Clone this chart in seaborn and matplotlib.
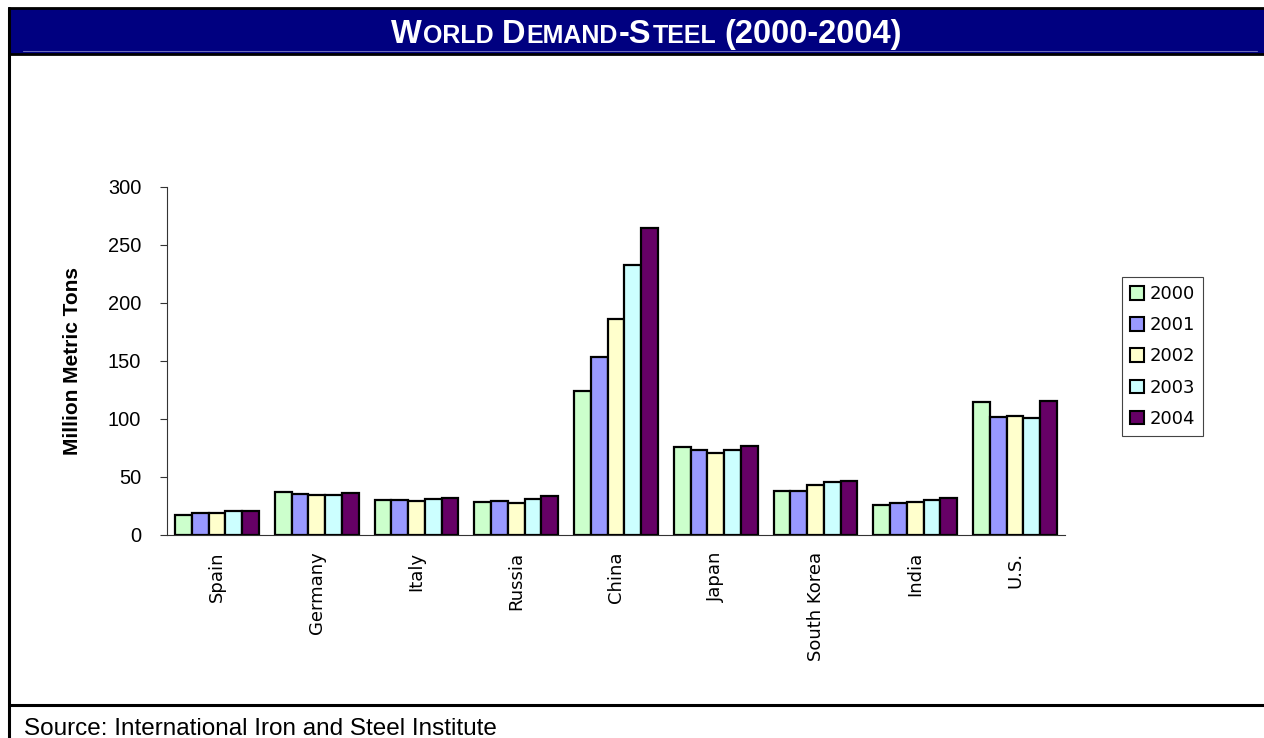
import matplotlib
matplotlib.use("Agg")
import matplotlib.pyplot as plt
import seaborn as sns
import pandas as pd
import numpy as np
from matplotlib.patches import Rectangle
from matplotlib.lines import Line2D

# ---------------- data ----------------
countries = ["Spain", "Germany", "Italy", "Russia", "China", "Japan",
             "South Korea", "India", "U.S."]
years = ["2000", "2001", "2002", "2003", "2004"]
demand_2000 = [17.0, 36.9, 30.2, 28.5, 124.2, 75.8, 38.3, 26.2, 114.7]
demand_2001 = [18.7, 35.4, 30.2, 29.1, 153.3, 73.2, 38.3, 27.4, 101.4]
demand_2002 = [19.3, 34.3, 29.6, 27.4, 186.1, 70.9, 43.5, 28.8, 102.6]
demand_2003 = [21.0, 34.3, 31.4, 31.4, 233.1, 73.2, 45.8, 30.0, 100.9]
demand_2004 = [21.0, 36.0, 32.2, 33.7, 264.7, 76.7, 46.9, 32.2, 115.8]
y_ticks = [0, 50, 100, 150, 200, 250, 300]
year_colors = ["#CCFFCC", "#9999FF", "#FFFFCC", "#CCFFFF", "#660066"]

title_text = "World Demand-Steel (2000-2004)"
source_text = "Source: International Iron and Steel Institute"
y_label = "Million Metric Tons"

# ---------------- setup ----------------
sns.set_style("white")
plt.rcParams["font.family"] = ["Liberation Sans", "DejaVu Sans"]
plt.rcParams["text.color"] = "black"
plt.rcParams["axes.labelcolor"] = "black"
plt.rcParams["xtick.color"] = "black"
plt.rcParams["ytick.color"] = "black"

W, H = 1264, 738
fig = plt.figure(figsize=(W / 100, H / 100), dpi=100)
fig.patch.set_facecolor("white")

ax = fig.add_axes([167 / W, 1 - 535 / H, (1065 - 167) / W, (535 - 187) / H])

series = [demand_2000, demand_2001, demand_2002, demand_2003, demand_2004]
df = pd.DataFrame({
    "Country": countries * len(years),
    "Year": [y for y in years for _ in countries],
    "Demand": [v for s in series for v in s],
})

sns.barplot(data=df, x="Country", y="Demand", hue="Year", hue_order=years,
            order=countries, palette=dict(zip(years, year_colors)),
            width=0.84, gap=0, saturation=1, errorbar=None,
            edgecolor="black", linewidth=1.6, ax=ax)

ax.set_ylim(0, 300)
ax.set_yticks(y_ticks)
ax.set_xlim(-0.5, len(countries) - 0.5)
ax.set_xticks(range(len(countries)))
ax.set_xticklabels(countries, rotation=90, fontfamily="DejaVu Sans", fontsize=13,
                   color="black")
ax.set_xticks(np.arange(-0.5, len(countries), 1.0), minor=True)
ax.tick_params(axis="x", which="major", length=0, pad=12, labelcolor="black")
ax.tick_params(axis="x", which="minor", length=4.5, width=0.8, color="#333333",
               direction="out")
ax.tick_params(axis="y", length=5, width=0.8, color="#333333", direction="out",
               pad=13.5, labelsize=14.4, left=True, labelcolor="black")
for lab in ax.get_yticklabels():
    lab.set_fontfamily("Liberation Sans")
ax.set_xlabel("")
ax.set_ylabel(y_label, fontsize=15, fontweight="bold", va="center", color="black")
ax.yaxis.set_label_coords((73 - 167) / (1065 - 167), 0.5)
for s in ["top", "right"]:
    ax.spines[s].set_visible(False)
for s in ["left", "bottom"]:
    ax.spines[s].set_color("#333333")
    ax.spines[s].set_linewidth(0.8)
ax.grid(False)

# legend
old = ax.get_legend()
handles = list(old.legend_handles)
labels = [t.get_text() for t in old.get_texts()]
old.remove()
leg = fig.legend(handles, labels, loc="upper left",
                 bbox_to_anchor=(1122 / W, 1 - 277 / H),
                 bbox_transform=fig.transFigure, borderaxespad=0,
                 prop={"family": "DejaVu Sans", "size": 13},
                 handlelength=0.78, handleheight=0.78, handletextpad=0.3,
                 labelspacing=0.73, borderpad=0.45, fancybox=False,
                 framealpha=1, edgecolor="#444444")
leg.get_frame().set_linewidth(0.8)
for h in leg.legend_handles:
    h.set_edgecolor("black")
    h.set_linewidth(1.5)
for t in leg.get_texts():
    t.set_color("black")

# ---------------- frame / banner ----------------
fig.add_artist(Rectangle((9 / W, 1 - 54 / H), 1.0, 46 / H, transform=fig.transFigure,
                         facecolor="#000080", edgecolor="black", linewidth=2.0,
                         zorder=1))
fig.add_artist(Line2D([23 / W, 1257 / W], [1 - 50.5 / H] * 2, transform=fig.transFigure,
                      color="#6a6ab8", linewidth=0.8, zorder=2))
fig.add_artist(Line2D([9 / W, 9 / W], [0, 1 - 8 / H], transform=fig.transFigure,
                      color="black", linewidth=2.2, zorder=2))
fig.add_artist(Line2D([9 / W, 1.0], [1 - 705 / H] * 2, transform=fig.transFigure,
                      color="black", linewidth=2.2, zorder=2))

fig.text(24 / W, 1 - 735 / H, source_text, fontsize=17.5, ha="left", va="baseline",
         color="black")

# ---------------- small-caps title ----------------
big, small = 23.5, 18.0
pieces = []
for word_i, word in enumerate(title_text.split(" ")):
    if word_i > 0:
        pieces.append((" ", small))
    for ch in word:
        if ch.isalpha() and ch.islower():
            pieces.append((ch.upper(), small))
        else:
            pieces.append((ch, big))
runs = []
for txt, sz in pieces:
    if runs and runs[-1][1] == sz and txt != " " and runs[-1][0] != " ":
        runs[-1] = (runs[-1][0] + txt, sz)
    else:
        runs.append((txt, sz))

renderer = fig.canvas.get_renderer()
baseline_y = 1 - 43 / H
items = []
total = 0.0
for txt, sz in runs:
    if txt == " ":
        w = 0.278 * sz * 100 / 72
        items.append((None, w))
    else:
        t = fig.text(0, baseline_y, txt, fontsize=sz, fontweight="bold", color="white",
                     ha="left", va="baseline", zorder=5,
                     family="Liberation Sans")
        bb = t.get_window_extent(renderer)
        w = bb.width + 0.04 * sz * 100 / 72
        items.append((t, w))
    total += w
x = 647 - total / 2
for t, w in items:
    if t is not None:
        t.set_x(x / W)
    x += w

fig.savefig("out.png", dpi=100)
